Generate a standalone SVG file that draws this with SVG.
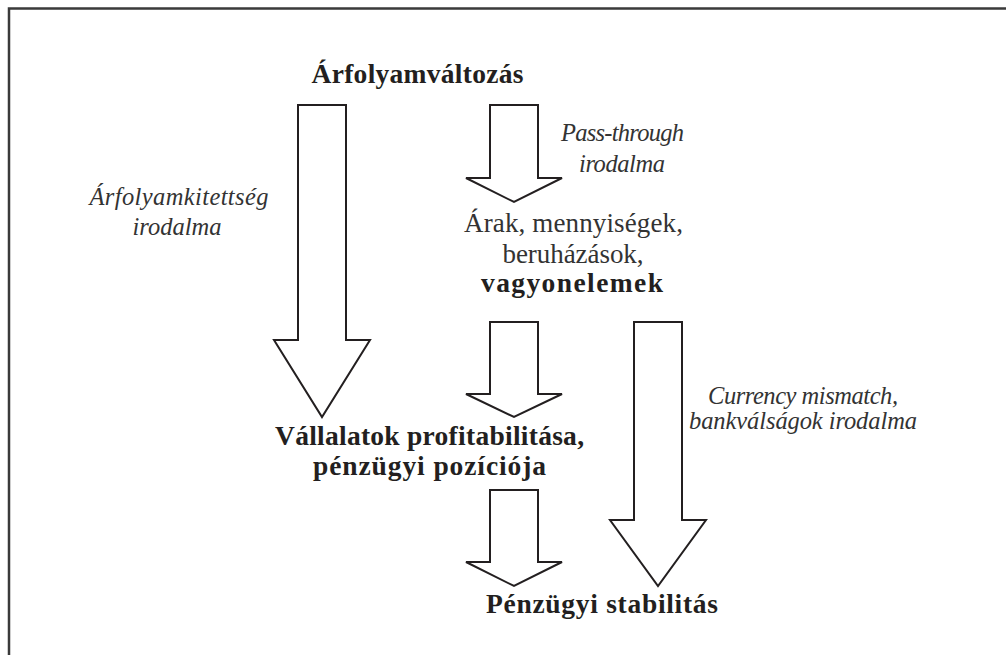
<svg xmlns="http://www.w3.org/2000/svg" width="1006" height="655" viewBox="0 0 1006 655">
<style>
.b{font-family:"Liberation Serif","Times New Roman",serif;font-weight:bold;font-size:27.5px;fill:#231f20;text-anchor:middle}
.r{font-family:"Liberation Serif","Times New Roman",serif;font-size:27px;fill:#333;text-anchor:middle}
.i{font-family:"Liberation Serif","Times New Roman",serif;font-style:italic;font-size:24.5px;fill:#333;text-anchor:middle}
.arr{fill:#fff;stroke:#231f20;stroke-width:2;stroke-linejoin:miter}
</style>
<rect width="1006" height="655" fill="#fff"/>
<rect x="9" y="8.5" width="1020" height="680" fill="none" stroke="#3a3a3a" stroke-width="2.5"/>
<g id="connectors">
<polygon class="arr" points="298,105 346,105 346,340 370,340 322,417 274,340 298,340"/>
<polygon class="arr" points="490,105 538,105 538,178 562,178 514,202 466,178 490,178"/>
<polygon class="arr" points="490,322 538,322 538,394 562,394 514,417 466,394 490,394"/>
<polygon class="arr" points="490,490 538,490 538,562 562,562 514,586 466,562 490,562"/>
<polygon class="arr" points="634,322 682,322 682,520 706,520 658,586 610,520 634,520"/>
</g>
<g id="arfolyamvaltozas">
<text class="b" x="417.5" y="83" textLength="212" lengthAdjust="spacing">Árfolyamváltozás</text>
</g>
<g id="label-passthrough">
<text class="i" x="622.5" y="141" textLength="123" lengthAdjust="spacing">Pass-through</text>
<text class="i" x="622" y="172" textLength="86" lengthAdjust="spacing">irodalma</text>
</g>
<g id="arak">
<text class="r" x="573.5" y="232" textLength="219" lengthAdjust="spacing">Árak, mennyiségek,</text>
<text class="r" x="573" y="263" textLength="141" lengthAdjust="spacing">beruházások,</text>
<text class="b" x="572" y="292" textLength="182" lengthAdjust="spacing">vagyonelemek</text>
</g>
<g id="label-arfolyamkitettseg">
<text class="i" x="179" y="205" textLength="179" lengthAdjust="spacing">Árfolyamkitettség</text>
<text class="i" x="177" y="235" textLength="89" lengthAdjust="spacing">irodalma</text>
</g>
<g id="vallalatok">
<text class="b" x="429.5" y="445" textLength="309" lengthAdjust="spacing">Vállalatok profitabilitása,</text>
<text class="b" x="429.5" y="475" textLength="233" lengthAdjust="spacing">pénzügyi pozíciója</text>
</g>
<g id="label-currency">
<text class="i" x="803" y="404" textLength="190" lengthAdjust="spacing">Currency mismatch,</text>
<text class="i" x="803" y="429" textLength="228" lengthAdjust="spacing">bankválságok irodalma</text>
</g>
<g id="penzugyi-stabilitas">
<text class="b" x="602" y="613" textLength="232" lengthAdjust="spacing">Pénzügyi stabilitás</text>
</g>
</svg>
